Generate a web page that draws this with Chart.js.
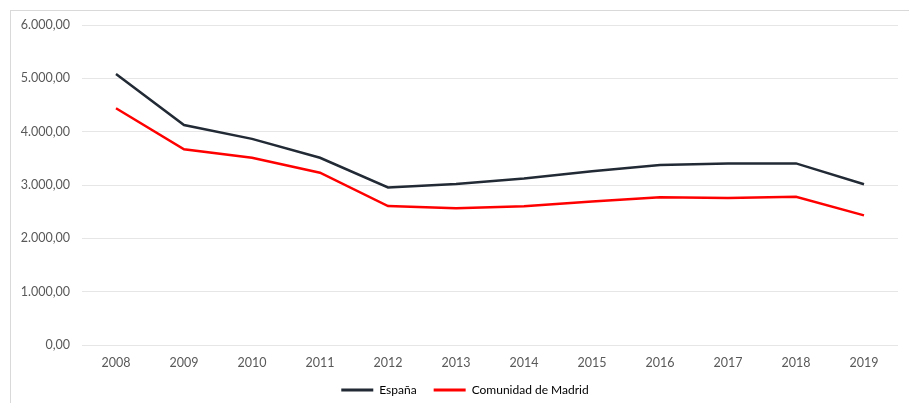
<!DOCTYPE html>
<html>
<head>
<meta charset="utf-8">
<script src="https://cdn.jsdelivr.net/npm/chart.js@4/dist/chart.umd.min.js"></script>
<style>
  html, body { margin: 0; padding: 0; background: #fff; }
  #frame { position: absolute; left: 10px; top: 10px; width: 1000px; height: 500px; border-left: 1px solid #d9d9d9; border-top: 1px solid #d9d9d9; }
  #wrap { position: absolute; left: 0; top: 0; width: 909px; height: 403px; }
</style>
</head>
<body>
<div id="frame"></div>
<div id="wrap"><canvas id="c" width="909" height="403"></canvas></div>
<script>
const years = ["2008","2009","2010","2011","2012","2013","2014","2015","2016","2017","2018","2019"];
const espana = [5080, 4125, 3865, 3510, 2955, 3020, 3120, 3260, 3375, 3405, 3405, 3015];
const madrid = [4440, 3670, 3510, 3230, 2605, 2565, 2600, 2690, 2770, 2755, 2780, 2430];
const seriesNames = ["España", "Comunidad de Madrid"];
const seriesColors = ["#222a35", "#ff0000"];

const fmt = v => {
  const parts = v.toFixed(2).split(".");
  parts[0] = parts[0].replace(/\B(?=(\d{3})+(?!\d))/g, ".");
  return parts[0] + "," + parts[1];
};

const FONT = "Lato, 'Open Sans', sans-serif";
Chart.defaults.font.family = FONT;
Chart.defaults.font.size = 12.5;
Chart.defaults.color = "#595959";

const shiftLegend = {
  id: "shiftLegend",
  afterLayout(chart) {
    const l = chart.legend;
    if (l) { l.left += 16; l.right += 16; }
  }
};

new Chart(document.getElementById("c"), {
  type: "line",
  data: {
    labels: years,
    datasets: [
      { label: seriesNames[0], data: espana, borderColor: seriesColors[0], backgroundColor: seriesColors[0], borderWidth: 2.5, pointRadius: 0, tension: 0 },
      { label: seriesNames[1], data: madrid, borderColor: seriesColors[1], backgroundColor: seriesColors[1], borderWidth: 2.5, pointRadius: 0, tension: 0 }
    ]
  },
  plugins: [shiftLegend],
  options: {
    responsive: false,
    animation: false,
    layout: { padding: { left: 0, right: 11, top: 25, bottom: 0 } },
    plugins: {
      tooltip: { enabled: false },
      legend: {
        position: "bottom",
        maxHeight: 36,
        labels: {
          boxWidth: 32,
          boxHeight: 3,
          padding: 17,
          font: { size: 12, family: FONT },
          color: "#595959",
          generateLabels: chart => chart.data.datasets.map((ds, i) => ({
            text: ds.label, fillStyle: ds.borderColor, strokeStyle: ds.borderColor, lineWidth: 0, datasetIndex: i, hidden: false
          }))
        }
      }
    },
    scales: {
      x: {
        offset: true,
        afterFit: s => { s.height = 22; },
        grid: { display: false, drawTicks: false },
        border: { display: false },
        ticks: { padding: 10, color: "#595959", font: { size: 12.5 } }
      },
      y: {
        min: 0, max: 6000,
        afterFit: s => { s.width = 82; },
        grid: { color: "#e6e6e6", lineWidth: 1, drawTicks: false },
        border: { display: false },
        ticks: { stepSize: 1000, padding: 12, callback: v => fmt(v), color: "#595959", font: { size: 12.5 } }
      }
    }
  }
});
</script>
</body>
</html>
